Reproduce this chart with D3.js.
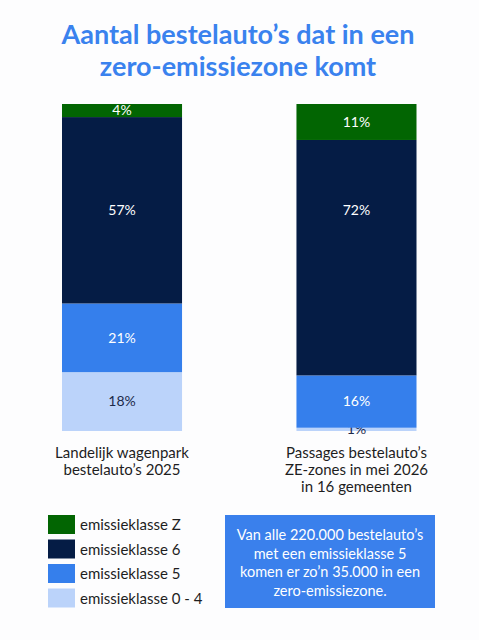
<!DOCTYPE html>
<html>
<head>
<meta charset="utf-8">
<script src="https://cdn.jsdelivr.net/npm/d3@7"></script>
<style>
  html, body { margin: 0; padding: 0; background: #fdfdfe; }
  svg { display: block; }
</style>
</head>
<body>
<svg id="chart" width="479" height="640"></svg>
<script>
const titleLines = ["Aantal bestelauto\u2019s dat in een", "zero-emissiezone komt"];
const categories = ["landelijk", "passages"];
const categoryLabels = [
  ["Landelijk wagenpark", "bestelauto\u2019s 2025"],
  ["Passages bestelauto\u2019s", "ZE-zones in mei 2026", "in 16 gemeenten"]
];
const seriesKeys = ["z", "k6", "k5", "k04"];
const seriesNames = ["emissieklasse Z", "emissieklasse 6", "emissieklasse 5", "emissieklasse 0 - 4"];
const valuesZ = [4, 11];
const values6 = [57, 72];
const values5 = [21, 16];
const values04 = [18, 1];
const noteLines = [
  "Van alle 220.000 bestelauto\u2019s",
  "met een emissieklasse 5",
  "komen er zo\u2019n 35.000 in een",
  "zero-emissiezone."
];

const colors = ["#026502", "#051c45", "#357fec", "#bbd3fa"];
const labelColors = ["#ffffff", "#ffffff", "#ffffff", "#1d2a4a"];
const fontBody = "'Lato', 'Noto Sans', sans-serif";

const rows = categories.map((c, i) => ({
  cat: c, z: valuesZ[i], k6: values6[i], k5: values5[i], k04: values04[i]
}));

const svg = d3.select("#chart");
svg.append("rect").attr("width", 479).attr("height", 640).attr("fill", "#fdfdfe");

// Title
svg.append("g").selectAll("text").data(titleLines).join("text")
  .attr("x", 238).attr("y", (d, i) => 44 + i * 32)
  .attr("text-anchor", "middle")
  .attr("font-family", "'Lato', 'Open Sans', sans-serif")
  .attr("font-weight", 700)
  .attr("font-size", 27)
  .attr("fill", "#3a82ee")
  .text(d => d);

const x = d3.scaleBand().domain(categories).range([62, 416.5]).paddingInner(0.488);
const y = d3.scaleLinear().domain([0, 100]).range([431, 104]);

// stack bottom-up: k04, k5, k6, z (Z on top)
const stack = d3.stack().keys(seriesKeys.slice().reverse());
const stacked = stack(rows);

const g = svg.append("g");
stacked.forEach(layer => {
  const si = seriesKeys.indexOf(layer.key);
  const centers = layer.map(d => (y(d[0]) + y(d[1])) / 2);
  // the large emissieklasse 6 labels are aligned on one level
  const labelY = layer.key === "k6" ? layer.map(() => d3.min(centers)) : centers;
  const lg = g.append("g");
  lg.selectAll("rect").data(layer).join("rect")
    .attr("x", d => x(d.data.cat))
    .attr("width", x.bandwidth())
    .attr("y", d => y(d[1]))
    .attr("height", d => y(d[0]) - y(d[1]))
    .attr("fill", colors[si]);
  lg.selectAll("text").data(layer).join("text")
    .attr("x", d => x(d.data.cat) + x.bandwidth() / 2)
    .attr("y", (d, i) => labelY[i])
    .attr("dy", "0.35em")
    .attr("text-anchor", "middle")
    .attr("font-family", fontBody)
    .attr("font-size", 14)
    .attr("fill", labelColors[si])
    .text(d => (d[1] - d[0]) + "%");
});

// Category labels
categories.forEach((c, i) => {
  svg.append("g").selectAll("text").data(categoryLabels[i]).join("text")
    .attr("x", x(c) + x.bandwidth() / 2)
    .attr("y", (d, j) => 458 + j * 16.8)
    .attr("text-anchor", "middle")
    .attr("font-family", fontBody)
    .attr("font-size", 15)
    .attr("fill", "#1e1e1e")
    .text(d => d);
});

// Legend
const legend = svg.append("g").attr("transform", "translate(48,515)");
const li = legend.selectAll("g").data(seriesNames).join("g")
  .attr("transform", (d, i) => `translate(0,${i * 24.5})`);
li.append("rect").attr("width", 27).attr("height", 19)
  .attr("fill", (d, i) => colors[i]);
li.append("text").attr("x", 32).attr("y", 10).attr("dy", "0.35em")
  .attr("font-family", fontBody).attr("font-size", 15).attr("fill", "#1e1e1e")
  .text(d => d);

// Note box
const note = svg.append("g");
note.append("rect").attr("x", 225).attr("y", 515).attr("width", 210).attr("height", 93)
  .attr("fill", "#3a80ec");
note.selectAll("text").data(noteLines).join("text")
  .attr("x", 330).attr("y", (d, i) => 540 + i * 18.5)
  .attr("text-anchor", "middle")
  .attr("font-family", fontBody).attr("font-size", 14.5).attr("fill", "#ffffff")
  .text(d => d);
</script>
</body>
</html>
